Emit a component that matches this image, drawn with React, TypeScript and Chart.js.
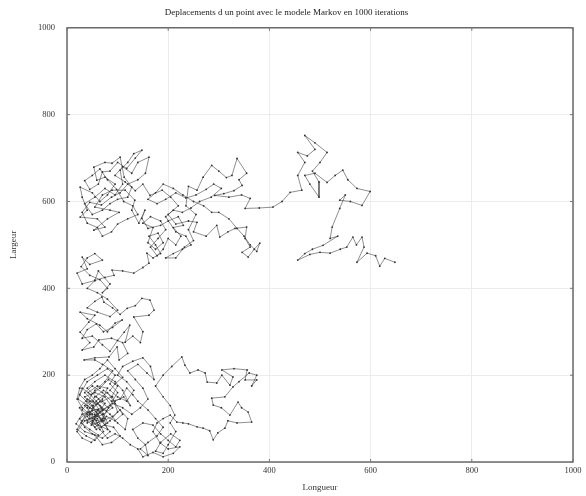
import React, { useEffect, useRef } from "react";
import { Chart, registerables } from "chart.js";
Chart.register(...registerables);

const TITLE = "Deplacements d un point avec le modele Markov en 1000 iterations";
const X_LABEL = "Longueur";
const Y_LABEL = "Largeur";
const AXIS_MIN = 0;
const AXIS_MAX = 1000;
const AXIS_STEP = 200;

// Path of the walk ([longueur, largeur])
const clusterStart = [
  [55,110],[70,95],[48,85],[62,120],[40,105],[58,75],[80,90],[65,130],[45,140],[30,120],
  [50,100],[72,110],[90,125],[75,150],[55,160],[35,150],[50,130],[68,95],[85,70],[70,55],
  [50,65],[35,80],[25,100],[42,115],[60,90],[78,105],[95,95],[110,110],[95,135],[80,160],
  [62,145],[45,125],[30,95],[20,75],[38,60],[55,50],[72,70],[60,100],[40,90],[52,130],
  [70,140],[88,150],[100,175],[82,190],[65,170],[48,155],[30,170],[22,145],[40,130],[58,115],
  [75,85],[92,80],[105,60],[88,45],[70,40],[55,62],[35,70],[18,88],[30,110],[50,118],
  [68,125],[85,110],[100,90],[115,75],[120,100],[105,120],[90,105],[72,95],[55,80],[40,95],
  [25,125],[40,145],[60,135],[78,118],[95,140],[112,150],[125,130],[110,165],[95,185],[75,200],
  [55,185],[40,170],[58,150],[75,135],[60,110],[45,100],[62,85],[80,75],[70,110],[52,140],
  [35,160],[50,175],[70,160],[88,140],[105,145],[118,170],[130,155],[140,140]
];

const bottomLoop = [
  [160,120],[175,100],[190,80],[178,60],[160,45],[145,30],[160,15],[155,40],[140,55],[130,75],
  [150,90],[170,85],[185,65],[200,50],[215,35],[223,50],[205,65],[185,45],[175,25],[190,20],
  [200,40],[215,70],[204,90],[213,108],[204,130],[190,150],[175,175],[190,200],[207,220],[227,242],
  [233,223],[243,205],[259,212],[273,205],[277,184],[296,182],[306,200],[322,177],[328,196],[306,212],
  [330,215],[356,212],[352,189],[375,189],[365,175],[375,200],[360,205],[340,185],[328,173],[312,150],
  [286,147],[289,131],[305,125],[322,108],[338,138],[345,125],[358,115],[365,92],[336,90],[318,95],
  [312,78],[298,67],[289,51],[282,72],[269,78],[257,81],[240,88],[229,90],[217,92],[204,108],
  [190,100],[178,90],[170,70],[184,44],[200,30],[223,35],[210,20],[190,12],[170,22],[150,12],
  [140,30],[125,40],[110,55],[95,65],[80,55],[65,75],[50,95]
];

const lowerMiddle = [
  [70,120],[90,135],[110,125],[128,110],[145,125],[160,145],[150,170],[135,190],[120,210],[140,225],
  [158,205],[172,190],[165,220],[150,240],[130,232],[110,220],[100,200],[118,185],[132,165],[118,140],
  [100,150],[85,165],[95,180],[110,195],[95,215],[80,235],[65,215],[50,200],[35,190],[25,170],
  [20,145],[30,125],[45,110]
];

const clusterReturn = [
  [40,110],[28,90],[45,75],[62,62],[48,45],[30,55],[20,70],[35,95],[55,105],[72,120],
  [58,140],[42,160],[60,175],[80,170],[70,145],[52,125],[38,140],[25,155],[40,185],[60,200],
  [80,215],[95,200],[85,180],[100,160],[85,130],[65,115],[50,90],[68,80],[85,95],[100,115],
  [90,150],[72,165],[55,150],[40,125],[60,120],[75,100],[58,95],[45,115],[65,140],[82,125],
  [70,100],[50,110],[35,130],[55,165],[75,185],[90,210],[70,225],[55,235],[34,235]
];

const leftColumn = [
  [55,240],[83,242],[99,265],[103,235],[120,250],[110,275],[88,285],[63,281],[53,265],[30,258],
  [45,275],[26,299],[43,322],[55,338],[26,345],[40,330],[65,315],[80,300],[95,320],[109,327],
  [90,310],[72,300],[58,318],[40,305],[30,285],[50,290],[70,270],[85,255],[100,280],
  [113,299],[124,315],[115,276],[130,290],[145,275],[150,300],[132,334],[162,338],[172,350],[164,373],
  [148,377],[135,360],[119,354],[105,340],[90,355],[73,368],[69,380],[55,370],[40,355],[60,345],
  [85,335],[100,350],[80,375],[60,390],[40,400],[55,418],[30,410],[20,435],[40,445],[30,472],
  [45,455],[70,465],[55,480],[40,470],[28,450],[45,430],[65,420],[80,400],[70,390],[85,410],
  [62,440],[55,418],[75,425],[93,430],[89,442],[110,440],[132,435],[150,448],[162,458],
  [158,481],[170,470],[185,480]
];

const middleColumn = [
  [175,500],[162,520],[180,527],[190,505],[175,490],[160,505],[170,540],[150,550],[165,565],[185,555],
  [195,535],[180,515],[165,495],[178,475],[190,490],[200,515],[215,500],[225,520],[210,540],[230,545],
  [220,565],[200,555],[185,545],[160,538],[148,561],[154,580],[142,550],[128,580],[134,603]
];

const upperLeft = [
  [115,626],[89,626],[70,615],[55,587],[85,580],[103,575],[80,560],[53,534],[75,541],[60,560],
  [26,564],[40,580],[30,610],[26,633],[50,620],[65,600],[80,615],[95,640],[75,656],[59,649],
  [53,679],[75,690],[89,688],[105,702],[113,656],[128,633],[120,610],[100,605],[85,595],[70,580],
  [50,570],[35,595],[55,610],[75,630],[95,615],[110,640],[105,672],[120,690],[132,710],[148,718],
  [135,700],[118,676],[100,690],[85,670],[70,668],[62,640],[45,628],[35,648],[50,660],[65,675],
  [80,650],[98,628],[112,600],[130,590],[140,570],[120,560],[100,548],[88,530],[70,520],[60,540],
  [40,550],[30,575],[45,598],[68,592],[88,610],[105,620],[120,640],[140,650],[155,665],
  [162,702],[140,690],[128,665],[110,680],[95,660],[115,645],[135,625],[150,640],[164,614],[188,626]
];

const middle = [
  [205,610],[220,590],[200,570],[215,548],[240,555],[257,552],[250,530],[275,520],[296,545],[302,518],
  [318,530],[332,538],[355,541],[352,515],[362,495],[346,483],[358,472],[370,490],[381,504],[375,485],
  [362,500],[350,520],[336,538],[320,560],[300,575],[286,575],[270,590],[250,600],[229,615],
  [210,630],[190,640],[175,620],[160,605],[178,595],[195,605],[215,620],[235,608],[255,615],[275,628],
  [290,640],[305,630],[285,610],[262,600],[245,585],[228,575],[210,580],[195,565],[215,530],[235,520],
  [245,500],[228,490],[210,480],[195,470],[215,470],[232,495],[250,510],[240,535],[255,570],[235,590],
  [240,635],
  [257,626],[269,656],[286,683],[300,670],[315,655],[326,660],[336,699],[355,665],[340,650],[346,637],
  [330,625],[310,618],[292,614],[320,610],[345,615],[362,607],[352,584]
];

const rightExcursion = [
  [380,585],[407,587],[425,600],[441,621],[464,626],[456,660],[470,690],[456,713],[475,705],[490,720],
  [470,752],[490,735],[514,713],[500,690],[485,670],[498,645],[498,610],[480,640],[470,660],[490,665],
  [514,644],[530,660],[545,672],[555,650],[573,630],[599,623],[583,591],[560,600],[539,603],[550,615],
  [539,584],[524,541],[520,515],[535,520],[506,499],[485,490],[470,480],[456,465],[480,478],[500,483],
  [520,481],[540,490],[553,495],[565,518],[572,500],[583,518],[587,495],[573,460],[593,481],[610,475],
  [618,451],[628,469],[648,460]
];

const walk = [
  ...clusterStart, ...bottomLoop, ...lowerMiddle, ...clusterReturn, ...leftColumn,
  ...middleColumn, ...upperLeft, ...middle, ...rightExcursion,
].map(([x, y]) => ({ x, y }));

const SERIF = "'Liberation Serif', 'DejaVu Serif', serif";

const framePlugin = {
  id: "frame",
  afterDraw(chart: any) {
    const { ctx, chartArea: a, scales } = chart;
    ctx.save();
    ctx.strokeStyle = "#555";
    ctx.lineWidth = 1.3;
    ctx.strokeRect(a.left, a.top, a.right - a.left, a.bottom - a.top);
    ctx.lineWidth = 1;
    ctx.strokeStyle = "#777";
    const len = 3;
    for (let v = AXIS_MIN; v <= AXIS_MAX; v += AXIS_STEP) {
      const px = scales.x.getPixelForValue(v);
      const py = scales.y.getPixelForValue(v);
      ctx.beginPath();
      ctx.moveTo(px, a.bottom); ctx.lineTo(px, a.bottom - len);
      ctx.moveTo(px, a.top); ctx.lineTo(px, a.top + len);
      ctx.moveTo(a.left, py); ctx.lineTo(a.left + len, py);
      ctx.moveTo(a.right, py); ctx.lineTo(a.right - len, py);
      ctx.stroke();
    }
    ctx.restore();
  },
};

export default function App() {
  const ref = useRef<HTMLCanvasElement>(null);
  useEffect(() => {
    if (!ref.current) return;
    const chart = new Chart(ref.current, {
      type: "scatter",
      data: {
        datasets: [
          {
            data: walk,
            showLine: true,
            borderColor: "rgba(20,20,20,0.8)",
            borderWidth: 0.6,
            pointRadius: 0.9,
            pointBackgroundColor: "#333",
            pointBorderWidth: 0,
            tension: 0,
          },
        ],
      },
      options: {
        responsive: false,
        animation: false,
        layout: { padding: { left: 0, right: 13, top: 0, bottom: 0 } },
        plugins: {
          legend: { display: false },
          tooltip: { enabled: false },
          title: {
            display: true,
            text: TITLE,
            color: "#222",
            font: { family: SERIF, size: 9, weight: "normal" },
            padding: { top: 7, bottom: 10 },
          },
        },
        scales: {
          x: {
            type: "linear",
            min: AXIS_MIN,
            max: AXIS_MAX,
            ticks: { stepSize: AXIS_STEP, color: "#333", font: { family: SERIF, size: 8.5 }, padding: 4, callback: (v: any) => String(v) },
            grid: { color: "#ececec", drawTicks: false },
            border: { display: false },
            title: { display: true, text: X_LABEL, color: "#333", font: { family: SERIF, size: 9 }, padding: { top: 2, bottom: 3 } },
            afterFit: (s: any) => { s.height = 34; },
          },
          y: {
            type: "linear",
            min: AXIS_MIN,
            max: AXIS_MAX,
            ticks: { stepSize: AXIS_STEP, color: "#333", font: { family: SERIF, size: 8.5 }, padding: 12, callback: (v: any) => String(v) },
            grid: { color: "#ececec", drawTicks: false },
            border: { display: false },
            title: { display: true, text: Y_LABEL, color: "#333", font: { family: SERIF, size: 9 }, padding: { top: 8, bottom: 0 } },
            afterFit: (s: any) => { s.width = 67; },
          },
        },
      },
      plugins: [framePlugin],
    });
    return () => chart.destroy();
  }, []);
  return (
    <div style={{ position: "fixed", left: 0, top: 0, width: 586, height: 496, background: "#fff" }}>
      <canvas ref={ref} width={586} height={496} />
    </div>
  );
}
